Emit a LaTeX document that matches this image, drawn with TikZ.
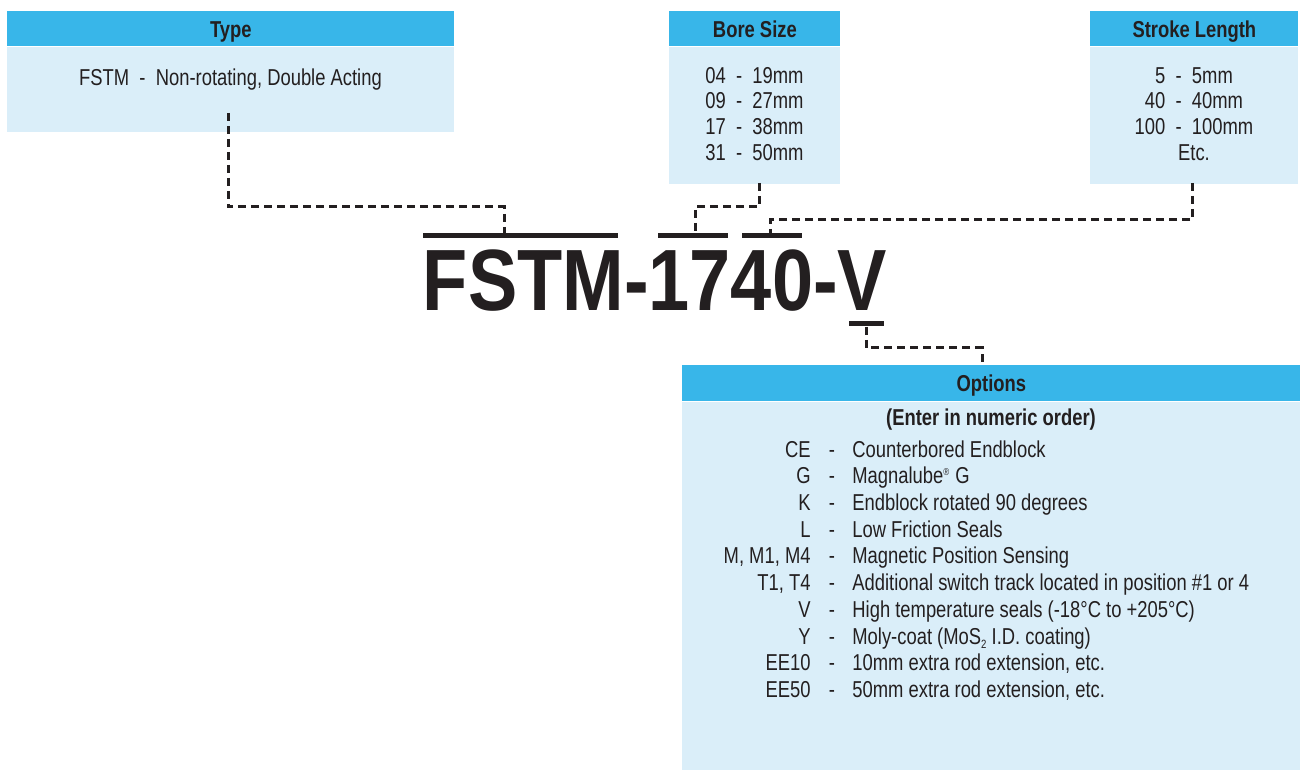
\documentclass[tikz,border=0pt]{standalone}
\usepackage{fontspec}
\setmainfont{Liberation Sans}[FakeStretch=0.80]
\newfontfamily\partfont{Liberation Sans}[FakeStretch=0.85]
\usetikzlibrary{positioning}
\definecolor{hdrblue}{HTML}{38B6E9}
\definecolor{bodyblue}{HTML}{DAEEF9}
\definecolor{ink}{HTML}{231F20}

\tikzset{
  hdr/.style={fill=hdrblue, text=ink, font=\bfseries\fontsize{11.5}{13}\selectfont,
    inner sep=0pt, text height=8.2pt, text depth=0pt, minimum height=17.5pt, anchor=north west},
  panel/.style={fill=bodyblue, inner sep=0pt},
  entry/.style={text=ink, font=\fontsize{11.5}{12.85}\selectfont, align=center, inner sep=0pt,
    text height=8.2pt, text depth=0pt},
  bar/.style={fill=ink, inner sep=0pt, minimum height=2.5pt},
  leader/.style={draw=ink, line width=1.5pt, dash pattern=on 4pt off 2.5pt},
}

\begin{document}
\begin{tikzpicture}[x=0.5pt, y=-0.5pt]
  \useasboundingbox (0,0) rectangle (1303,770);

  % boxes
  \node[hdr, minimum width=223.5pt] (typehdr) at (7,11) {Type};
  \node[panel, minimum width=223.5pt, minimum height=42.5pt, below=0pt of typehdr] (typebody) {};
  \node[hdr, minimum width=85.5pt] (borehdr) at (669,11) {Bore Size};
  \node[panel, minimum width=85.5pt, minimum height=68.5pt, below=0pt of borehdr] (borebody) {};
  \node[hdr, minimum width=104pt] (strokehdr) at (1090,11) {Stroke Length};
  \node[panel, minimum width=104pt, minimum height=68.5pt, below=0pt of strokehdr] (strokebody) {};
  \node[hdr, minimum width=309pt, minimum height=18pt] (opthdr) at (682,365) {Options};
  \node[panel, minimum width=309pt, minimum height=184.5pt, below=0pt of opthdr] (optbody) {};

  % box texts (multi-line: placed by the last line)
  \node[entry] (typetxt) at (230.5,77) {FSTM\ \ -\ \ Non-rotating, Double Acting};
  \node[entry] (boretxt) at (754.5,152) {04\ \ -\ \ 19mm\\09\ \ -\ \ 27mm\\17\ \ -\ \ 38mm\\31\ \ -\ \ 50mm};
  \node[entry] (stroketxt) at (1194,152) {5\ \ -\ \ 5mm\\40\ \ -\ \ 40mm\\100\ \ -\ \ 100mm\\Etc.};
  \node[entry, font=\bfseries\fontsize{11.5}{13}\selectfont] (optnote) at (991,417) {(Enter in numeric order)};
  \foreach \code/\desc [count=\i from 0] in {
      CE/Counterbored Endblock,
      G/Magnalube\textsuperscript{\fontsize{5}{5}\selectfont ®} G,
      K/Endblock rotated 90 degrees,
      L/Low Friction Seals,
      {M, M1, M4}/Magnetic Position Sensing,
      {T1, T4}/Additional switch track located in position \#1 or 4,
      V/High temperature seals (-18°C to +205°C),
      Y/Moly-coat (MoS\raisebox{-0.4ex}{\fontsize{6}{6}\selectfont 2} I.D. coating),
      EE10/{10mm extra rod extension, etc.},
      EE50/{50mm extra rod extension, etc.}} {
    \node[entry, anchor=east] (code\i) at (811,{449+26.7*\i}) {\code};
    \node[entry] (dash\i) at (832,{449+26.7*\i}) {-};
    \node[entry, anchor=west] (desc\i) at (852,{449+26.7*\i}) {\desc};
  }

  % part number and bars
  \node[text=ink, font=\partfont\bfseries\fontsize{43.5}{45}\selectfont, anchor=base, inner sep=0pt]
    (partno) at (655,311) {FSTM-1740-V};
  \node[bar, minimum width=97.5pt] (barT) at (520.5,236) {};
  \node[bar, minimum width=35pt] (barB) at (693,236) {};
  \node[bar, minimum width=30pt] (barS) at (772,236) {};
  \node[bar, minimum width=17.5pt] (barV) at (866.5,324) {};

  % leaders
  \coordinate (typeend) at (228,113);
  \coordinate (typeknee) at (504,207);
  \coordinate (boreend) at (759,183);
  \coordinate (boreknee) at (695,207);
  \coordinate (strokeend) at (1192,183);
  \coordinate (strokeknee) at (770,220);
  \coordinate (optknee) at (982,348);
  \draw[leader] (typeend) |- (typeknee) -- (typeknee |- barT.north);
  \draw[leader] (boreend) |- (boreknee) -- (boreknee |- barB.north);
  \draw[leader] (strokeend) |- (strokeknee) -- (strokeknee |- barS.north);
  \draw[leader] (barV.south) |- (optknee) -- (optknee |- opthdr.north);
\end{tikzpicture}
\end{document}
